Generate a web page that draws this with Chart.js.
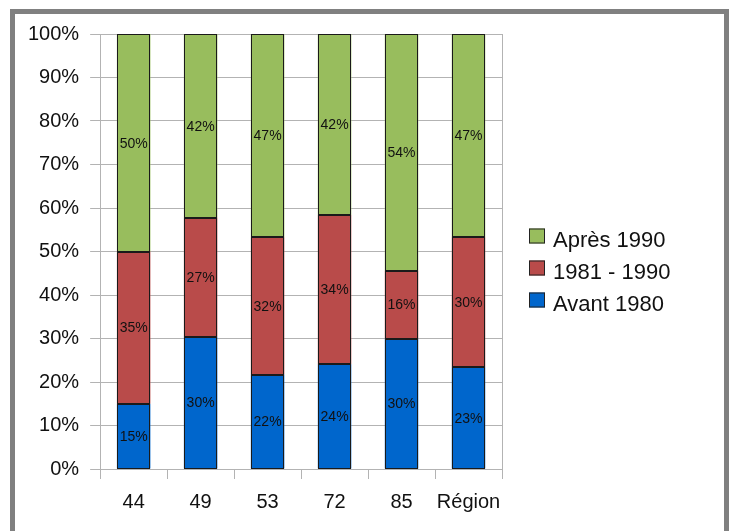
<!DOCTYPE html>
<html>
<head>
<meta charset="utf-8">
<script src="https://cdn.jsdelivr.net/npm/chart.js@4/dist/chart.umd.min.js"></script>
<style>
  html, body { margin: 0; padding: 0; background: #fff; overflow: hidden; }
  body { width: 730px; height: 531px; position: relative; }
  #frame {
    position: absolute; left: 10px; top: 9px; width: 719px; height: 600px;
    box-sizing: border-box; border: 5px solid #808080;
  }
  #wrap { position: absolute; left: 0; top: 0; width: 730px; height: 531px; }
</style>
</head>
<body>
<div id="frame"></div>
<div id="wrap"><canvas id="chart" width="730" height="531"></canvas></div>
<script>
// Housing stock by construction period, per département and for the whole region (%)
const categories = ['44', '49', '53', '72', '85', 'Région'];
const avant1980 = [15, 30.4, 21.7, 24.1, 30.0, 23.4];
const de1981a1990 = [35, 27.4, 31.6, 34.3, 15.6, 29.9];
const apres1990 = [50, 42.2, 46.7, 41.6, 54.4, 46.7];
const seriesNames = ['Avant 1980', '1981 - 1990', 'Après 1990'];
const yTicks = [0, 10, 20, 30, 40, 50, 60, 70, 80, 90, 100];

const FONT = '"Liberation Sans", Arial, sans-serif';
const GRID = '#b3b3b3';
const colours = ['#0066cc', '#b94b4a', '#98bd5d'];

// Crisp dark outline around every bar segment, then its percentage in the middle
const segmentLabels = {
  id: 'segmentLabels',
  afterDatasetsDraw(chart) {
    const ctx = chart.ctx;
    ctx.save();
    ctx.strokeStyle = '#1a1a1a';
    ctx.lineWidth = 1;
    chart.data.datasets.forEach((ds, di) => {
      chart.getDatasetMeta(di).data.forEach((bar) => {
        const p = bar.getProps(['x', 'y', 'base', 'width'], true);
        const l = Math.round(p.x - p.width / 2) + 0.5;
        const r = Math.round(p.x + p.width / 2) - 0.5;
        const t = Math.round(Math.min(p.y, p.base)) + 0.5;
        const b = Math.round(Math.max(p.y, p.base)) - 0.5;
        ctx.strokeRect(l, t, r - l, b - t);
      });
    });
    ctx.font = '14px ' + FONT;
    ctx.fillStyle = '#111';
    ctx.textAlign = 'center';
    ctx.textBaseline = 'middle';
    chart.data.datasets.forEach((ds, di) => {
      chart.getDatasetMeta(di).data.forEach((bar, i) => {
        const p = bar.getProps(['x', 'y', 'base'], true);
        ctx.fillText(Math.round(ds.data[i]) + '%', p.x, (p.y + p.base) / 2 + 1);
      });
    });
    ctx.restore();
  }
};

// Legend to the right of the plot, last series on top
const sideLegend = {
  id: 'sideLegend',
  afterDraw(chart) {
    const ctx = chart.ctx;
    const area = chart.chartArea;
    const x = area.right + 27;
    const midY = (area.top + area.bottom) / 2 + 20;
    const rowGap = 32;
    const items = chart.data.datasets.map((d, i) => ({ text: d.label, fill: d.backgroundColor })).reverse();
    ctx.save();
    ctx.font = '22px ' + FONT;
    ctx.textBaseline = 'middle';
    ctx.textAlign = 'left';
    items.forEach((it, i) => {
      const cy = midY + (i - 1) * rowGap;
      ctx.fillStyle = it.fill;
      ctx.fillRect(x, cy - 11, 16, 15);
      ctx.strokeStyle = '#222';
      ctx.lineWidth = 1;
      ctx.strokeRect(x + 0.5, cy - 10.5, 15, 14);
      ctx.fillStyle = '#111';
      ctx.fillText(it.text, x + 24, cy + 1);
    });
    ctx.restore();
  }
};

const datasets = [avant1980, de1981a1990, apres1990].map((vals, i) => ({
  label: seriesNames[i],
  data: vals,
  backgroundColor: colours[i],
  borderWidth: 0,
  barPercentage: 0.5,
  categoryPercentage: 1
}));

new Chart(document.getElementById('chart'), {
  type: 'bar',
  data: { labels: categories, datasets },
  options: {
    responsive: false,
    animation: false,
    events: [],
    layout: { padding: { left: 17, top: 34, right: 228, bottom: 6 } },
    plugins: {
      legend: { display: false },
      tooltip: { enabled: false }
    },
    scales: {
      x: {
        stacked: true,
        offset: true,
        grid: {
          offset: true,
          color: (c) => (c.type !== 'tick' || c.index === 0) ? GRID : 'rgba(0,0,0,0)',
          tickColor: GRID,
          tickLength: 10,
          lineWidth: 1
        },
        border: { color: GRID },
        ticks: { font: { family: FONT, size: 20 }, color: '#111', padding: 11, maxRotation: 0, autoSkip: false }
      },
      y: {
        stacked: true,
        min: 0,
        max: 100,
        afterBuildTicks: (axis) => { axis.ticks = yTicks.map(v => ({ value: v })); },
        grid: { color: GRID, tickColor: GRID, tickLength: 10, lineWidth: 1 },
        border: { color: GRID },
        ticks: {
          font: { family: FONT, size: 20 },
          color: '#111',
          padding: 11,
          callback: (v) => v + '%'
        }
      }
    }
  },
  plugins: [segmentLabels, sideLegend]
});
</script>
</body>
</html>
